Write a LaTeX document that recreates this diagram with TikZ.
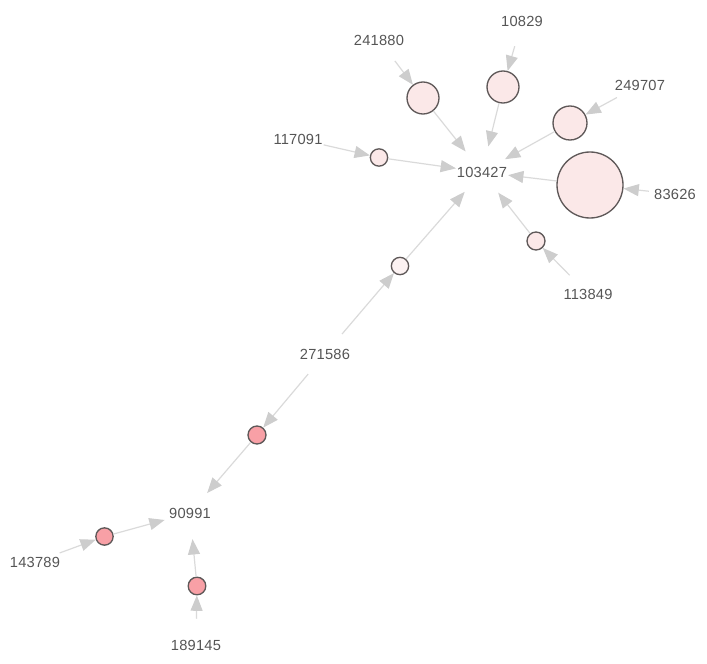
\documentclass[tikz,border=0pt]{standalone}
\usepackage{fontspec}
\newfontfamily\lblfont{Liberation Sans}[LetterSpace=1.5]
\usetikzlibrary{arrows.meta}
\definecolor{edgegray}{HTML}{DADADA}
\definecolor{tipgray}{HTML}{CDCDCD}
\definecolor{txtgray}{HTML}{555555}
\definecolor{palepink}{HTML}{FBE8E8}
\definecolor{whitepink}{HTML}{FCF2F2}
\definecolor{salmon}{HTML}{F8A0A6}
\definecolor{rimgray}{HTML}{5E5858}
\tikzset{
  lbl/.style={circle,minimum size=39pt,inner sep=0pt,text=txtgray,font=\lblfont\fontsize{11pt}{13pt}\selectfont},
  dot/.style={circle,draw=rimgray,line width=1pt,inner sep=0pt,minimum size=#1},
  pale/.style={dot=#1,fill=palepink},
  whitish/.style={dot=#1,fill=whitepink},
  red/.style={dot=#1,fill=salmon},
  link/.style={draw=edgegray,line width=0.9pt,-{Triangle[length=11.5pt,width=9pt,color=tipgray]}},
}
\begin{document}
\begin{tikzpicture}[x=0.75pt,y=-0.75pt]
\useasboundingbox (0,0) rectangle (707,664);
% labels
\node[lbl] (l103427) at (482,172) {103427};
\node[lbl] (l241880) at (379,40) {241880};
\node[lbl] (l10829) at (522,21) {10829};
\node[lbl] (l249707) at (640,85) {249707};
\node[lbl] (l117091) at (298,139) {117091};
\node[lbl] (l83626) at (675,194) {83626};
\node[lbl] (l113849) at (588,294) {113849};
\node[lbl] (l271586) at (325,354) {271586};
\node[lbl] (l90991) at (190,513) {90991};
\node[lbl] (l143789) at (35,562) {143789};
\node[lbl] (l189145) at (196,645) {189145};
% circles
\node[pale=24pt] (c241880) at (423,98) {};
\node[pale=24pt] (c10829) at (503,87) {};
\node[pale=25.5pt] (c249707) at (570,123) {};
\node[pale=49.5pt] (c83626) at (590,185) {};
\node[pale=13pt] (c117091) at (379,157.5) {};
\node[pale=13.5pt] (c113849) at (536,241) {};
\node[whitish=13pt] (cup) at (400,266) {};
\node[red=13.5pt] (clow) at (257,435) {};
\node[red=13pt] (c143789) at (104.5,536.5) {};
\node[red=13.2pt] (c189145) at (197,586) {};
% edges
\draw[link] (l241880) -- (c241880);
\draw[link] (c241880) -- (l103427);
\draw[link] (l10829) -- (c10829);
\draw[link] (c10829) -- (l103427);
\draw[link] (l249707) -- (c249707);
\draw[link] (c249707) -- (l103427);
\draw[link] (l83626) -- (c83626);
\draw[link] (c83626) -- (l103427);
\draw[link] (l117091) -- (c117091);
\draw[link] (c117091) -- (l103427);
\draw[link] (l113849) -- (c113849);
\draw[link] (c113849) -- (l103427);
\draw[link] (l271586) -- (cup);
\draw[link] (cup) -- (l103427);
\draw[link] (l271586) -- (clow);
\draw[link] (clow) -- (l90991);
\draw[link] (l143789) -- (c143789);
\draw[link] (c143789) -- (l90991);
\draw[link] (l189145) -- (c189145);
\draw[link] (c189145) -- (l90991);
\end{tikzpicture}
\end{document}
